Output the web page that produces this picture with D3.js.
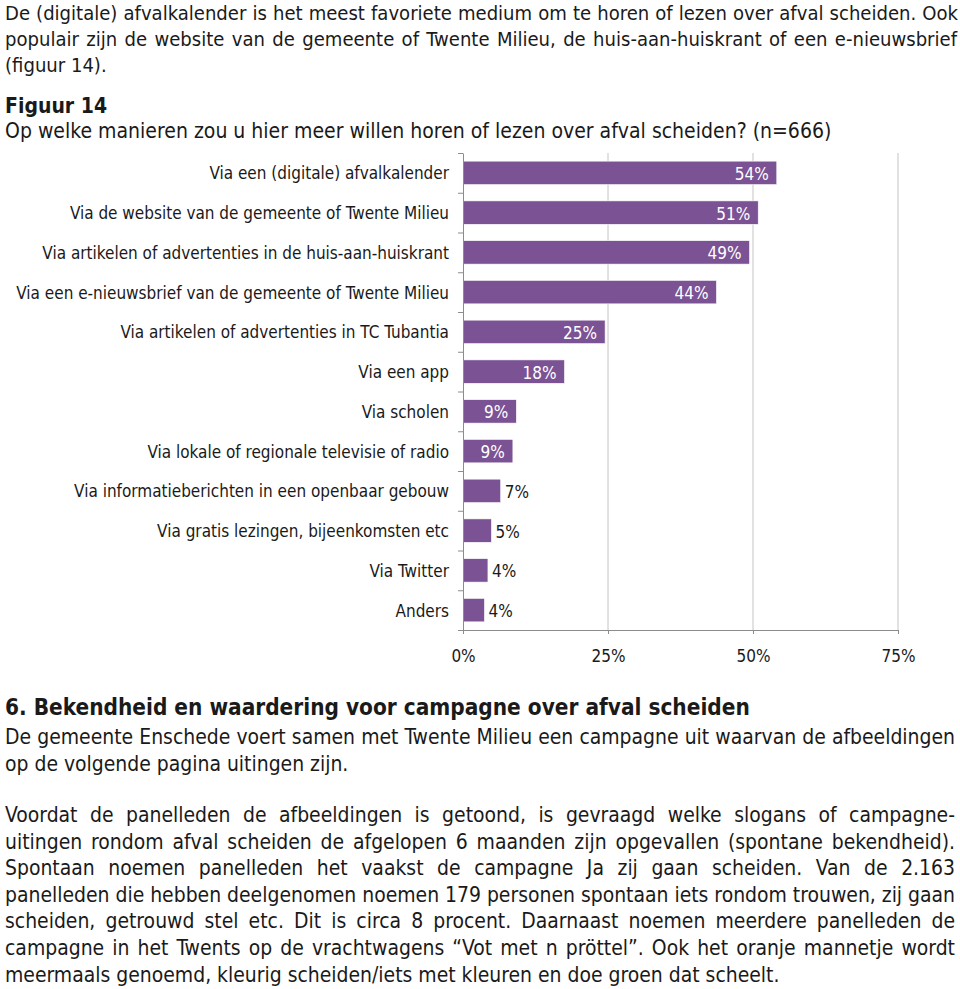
<!DOCTYPE html>
<html>
<head>
<meta charset="utf-8">
<script src="https://cdn.jsdelivr.net/npm/d3@7"></script>
<style>
  html, body { margin: 0; padding: 0; background: #fff; }
  svg { display: block; }
</style>
</head>
<body>
<svg id="chart" width="960" height="989"></svg>
<script>
// ---------- DATA ----------
const categories = [
  "Via een (digitale) afvalkalender",
  "Via de website van de gemeente of Twente Milieu",
  "Via artikelen of advertenties in de huis-aan-huiskrant",
  "Via een e-nieuwsbrief van de gemeente of Twente Milieu",
  "Via artikelen of advertenties in TC Tubantia",
  "Via een app",
  "Via scholen",
  "Via lokale of regionale televisie of radio",
  "Via informatieberichten in een openbaar gebouw",
  "Via gratis lezingen, bijeenkomsten etc",
  "Via Twitter",
  "Anders"
];
const values = [54.1, 50.9, 49.4, 43.7, 24.5, 17.5, 9.2, 8.6, 6.5, 4.9, 4.3, 3.7];
const valueLabels = ["54%", "51%", "49%", "44%", "25%", "18%", "9%", "9%", "7%", "5%", "4%", "4%"];
const xTicks = [0, 25, 50, 75];
const xTickLabels = ["0%", "25%", "50%", "75%"];

const introLines = [
  "De (digitale) afvalkalender is het meest favoriete medium om te horen of lezen over afval scheiden. Ook",
  "populair zijn de website van de gemeente of Twente Milieu, de huis-aan-huiskrant of een e-nieuwsbrief",
  "(figuur 14)."
];
const figureLabel = "Figuur 14";
const figureTitle = "Op welke manieren zou u hier meer willen horen of lezen over afval scheiden? (n=666)";
const heading = "6. Bekendheid en waardering voor campagne over afval scheiden";
const paraA = [
  "De gemeente Enschede voert samen met Twente Milieu een campagne uit waarvan de afbeeldingen",
  "op de volgende pagina uitingen zijn."
];
const paraB = [
  "Voordat de panelleden de afbeeldingen is getoond, is gevraagd welke slogans of campagne-",
  "uitingen rondom afval scheiden de afgelopen 6 maanden zijn opgevallen (spontane bekendheid).",
  "Spontaan noemen panelleden het vaakst de campagne Ja zij gaan scheiden. Van de 2.163",
  "panelleden die hebben deelgenomen noemen 179 personen spontaan iets rondom trouwen, zij gaan",
  "scheiden, getrouwd stel etc. Dit is circa 8 procent. Daarnaast noemen meerdere panelleden de",
  "campagne in het Twents op de vrachtwagens \u201CVot met n pr\u00F6ttel\u201D. Ook het oranje mannetje wordt",
  "meermaals genoemd, kleurig scheiden/iets met kleuren en doe groen dat scheelt."
];

// ---------- SETUP ----------
const FONT = "'DejaVu Sans Condensed', 'DejaVu Sans', sans-serif";
const TEXT = "#1a1a1a";
const BAR = "#7b5294";
const svg = d3.select("#chart").style("font-family", FONT);
svg.append("rect").attr("width", 960).attr("height", 989).attr("fill", "#fff");

const tmp = svg.append("text").attr("x", -1000).attr("y", -1000);
function measure(text, size, weight) {
  tmp.attr("font-size", size).attr("font-weight", weight || "normal").text(text);
  return tmp.node().getComputedTextLength();
}
function fit(text, width, weight) { return 40 * width / measure(text, 40, weight); }

function plainLine(text, x, y, size, weight) {
  return svg.append("text").attr("x", x).attr("y", y)
    .attr("font-size", size).attr("font-weight", weight || "normal")
    .attr("fill", TEXT).text(text);
}
function justLine(text, x0, x1, y, size) {
  const words = text.split(" ");
  const t = svg.append("text").attr("y", y).attr("font-size", size).attr("fill", TEXT);
  const spans = words.map((w, i) => t.append("tspan").text(i < words.length - 1 ? w + " " : w));
  const widths = words.map(w => measure(w, size));
  const total = d3.sum(widths);
  const gap = (x1 - x0 - total) / (words.length - 1);
  let x = x0;
  spans.forEach((s, i) => { s.attr("x", x); x += widths[i] + gap; });
}

// ---------- TOP TEXT ----------
const introSize = 40 * 948 / Math.max(measure(introLines[0], 40), measure(introLines[1], 40));
justLine(introLines[0], 5, 958, 20, introSize);
justLine(introLines[1], 5, 957, 46, introSize);
plainLine(introLines[2], 5, 72, introSize);

const titleSize = fit(figureTitle, 827);
plainLine(figureLabel, 5, 113, titleSize, "bold");
plainLine(figureTitle, 5, 138, titleSize);

// ---------- CHART ----------
const x = d3.scaleLinear().domain([0, 75]).range([463, 898]);
const y = d3.scaleBand().domain(categories).range([153, 630]).paddingInner(0.41).paddingOuter(0.205);
const yEdges = d3.scaleLinear().domain([0, categories.length]).range([153, 630]);

const labelSize = fit(categories[3], 433);
const numSize = fit("54%", 34);

// gridlines
svg.append("g").selectAll("line").data(xTicks.filter(d => d > 0)).join("line")
  .attr("x1", d => x(d)).attr("x2", d => x(d))
  .attr("y1", 153).attr("y2", 630)
  .attr("stroke", "#c4c4c4").attr("stroke-width", 1);

// bars
svg.append("g").selectAll("rect").data(values).join("rect")
  .attr("x", x(0))
  .attr("y", (d, i) => y(categories[i]))
  .attr("width", d => x(d) - x(0))
  .attr("height", y.bandwidth())
  .attr("fill", BAR)
  .attr("stroke", "#ffffff").attr("stroke-width", 0.6);

// y axis (ticks at band edges)
const yAxis = svg.append("g").attr("transform", `translate(${x(0)},0)`)
  .call(d3.axisLeft(yEdges).tickValues(d3.range(categories.length + 1))
    .tickSize(5).tickSizeOuter(0).tickFormat(""));
yAxis.select(".domain").attr("stroke", "#8c8c8c");
yAxis.selectAll(".tick line").attr("stroke", "#8c8c8c");

// x axis
const xAxis = svg.append("g").attr("transform", "translate(0,630)")
  .call(d3.axisBottom(x).tickValues(xTicks).tickSize(4).tickSizeOuter(0)
    .tickFormat((d, i) => xTickLabels[i]));
xAxis.select(".domain").attr("stroke", "#8c8c8c");
xAxis.selectAll(".tick line").attr("stroke", "#8c8c8c");
xAxis.selectAll(".tick text")
  .attr("y", 32).attr("dy", 0)
  .attr("font-family", FONT).attr("font-size", numSize).attr("fill", TEXT);

// category labels
svg.append("g").selectAll("text").data(categories).join("text")
  .attr("x", 449)
  .attr("y", d => y(d) + y.bandwidth() / 2 + 6.5)
  .attr("text-anchor", "end")
  .attr("font-size", labelSize).attr("fill", TEXT)
  .text(d => d);

// value labels
svg.append("g").selectAll("text").data(values).join("text")
  .each(function (d, i) {
    const lbl = valueLabels[i];
    const w = measure(lbl, numSize);
    const barW = x(d) - x(0);
    const inside = barW > w + 14;
    d3.select(this)
      .attr("x", inside ? x(d) - 8 : x(d) + 4)
      .attr("y", y(categories[i]) + y.bandwidth() / 2 + 7)
      .attr("text-anchor", inside ? "end" : "start")
      .attr("font-size", numSize)
      .attr("fill", inside ? "#ffffff" : TEXT)
      .text(lbl);
  });

// ---------- BOTTOM TEXT ----------
const headSize = fit(heading, 745, "bold");
plainLine(heading, 5, 715, headSize, "bold");

const bodySize = fit(paraB[6], 775);
justLine(paraA[0], 5, 955, 744, bodySize);
plainLine(paraA[1], 5, 771, bodySize);

const bStart = 822, bStep = 26.6;
paraB.forEach((line, i) => {
  const yy = bStart + i * bStep;
  if (i < paraB.length - 1) justLine(line, 5, 955, yy, bodySize);
  else plainLine(line, 5, yy, bodySize);
});

tmp.remove();
</script>
</body>
</html>
